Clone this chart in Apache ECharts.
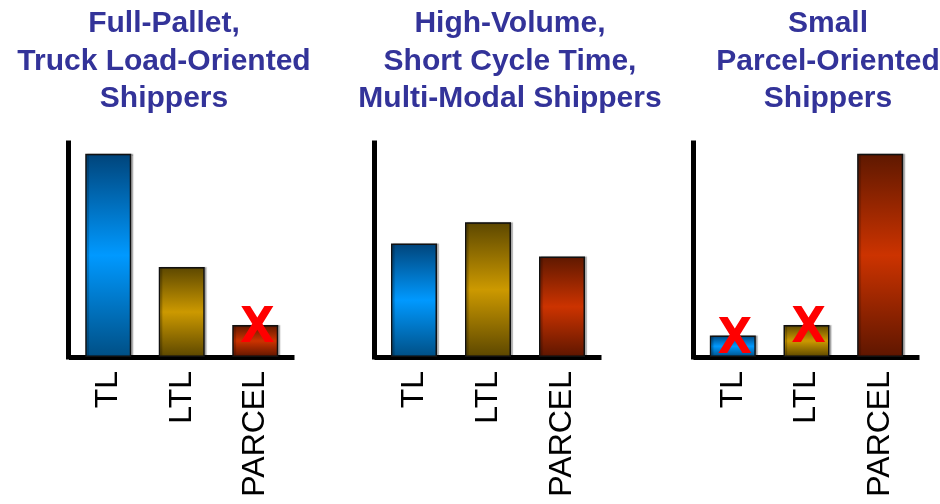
<!DOCTYPE html>
<html>
<head>
<meta charset="utf-8">
<style>
  html, body { margin: 0; padding: 0; background: #ffffff; }
  #chart { width: 940px; height: 504px; }
</style>
<script src="https://cdn.jsdelivr.net/npm/echarts@6/dist/echarts.min.js"></script>
</head>
<body>
<div id="chart"></div>
<script>
// Shipment modes shown on every panel
const categories = ['TL', 'LTL', 'PARCEL'];

// Panel headings (one per shipper profile)
const panelTitles = [
  'Full-Pallet,\nTruck Load-Oriented\nShippers',
  'High-Volume,\nShort Cycle Time,\nMulti-Modal Shippers',
  'Small\nParcel-Oriented\nShippers'
];

// Relative volume per mode, on a 0-100 scale
const fullPalletValues = [95, 42, 15];
const highVolumeValues = [53, 63, 47];
const smallParcelValues = [10, 15, 95];

// Modes that are struck out with a red X
const fullPalletCrossed = [false, false, true];
const highVolumeCrossed = [false, false, false];
const smallParcelCrossed = [true, true, false];

const panelValues = [fullPalletValues, highVolumeValues, smallParcelValues];
const panelCrossed = [fullPalletCrossed, highVolumeCrossed, smallParcelCrossed];

// Vertical dark-bright-dark fills for TL, LTL, PARCEL
const modeFills = [
  ['#00447a', '#0099ff', '#004f85'],
  ['#5c4700', '#cc9900', '#5c4700'],
  ['#5e1800', '#cc3300', '#5e1600']
];

const panelLayout = [
  { left: 71.5, width: 220.5, titleX: 159 },
  { left: 377, width: 222, titleX: 505 },
  { left: 696, width: 221, titleX: 823 }
];

const chart = echarts.init(document.getElementById('chart'), null, { renderer: 'canvas' });

function fillFor(i) {
  const c = modeFills[i];
  return new echarts.graphic.LinearGradient(0, 0, 0, 1, [
    { offset: 0, color: c[0] },
    { offset: 0.5, color: c[1] },
    { offset: 1, color: c[2] }
  ]);
}

const axisStroke = { color: '#000000', width: 5, cap: 'square' };

const option = {
  backgroundColor: '#ffffff',
  animation: false,
  title: panelLayout.map((p, k) => ({
    text: panelTitles[k],
    left: p.titleX,
    top: 0,
    textAlign: 'center',
    textStyle: {
      fontFamily: '"Liberation Sans", Arial, sans-serif',
      fontWeight: 'bold',
      fontSize: 30,
      lineHeight: 37.5,
      color: '#333399'
    }
  })),
  grid: panelLayout.map(p => ({ left: p.left, width: p.width, top: 143, bottom: 147 })),
  xAxis: panelLayout.map((p, k) => ({
    type: 'category',
    gridIndex: k,
    data: categories,
    axisLine: { show: true, lineStyle: axisStroke },
    axisTick: { show: false },
    axisLabel: {
      rotate: 90,
      margin: 14,
      fontFamily: '"Liberation Sans", Arial, sans-serif',
      fontSize: 32,
      color: '#000000',
      interval: 0
    },
    splitLine: { show: false }
  })),
  yAxis: panelLayout.map((p, k) => ({
    type: 'value',
    gridIndex: k,
    min: 0,
    max: 100,
    offset: 3,
    axisLine: { show: true, lineStyle: axisStroke },
    axisTick: { show: false },
    axisLabel: { show: false },
    splitLine: { show: false }
  })),
  series: panelValues.map((vals, k) => ({
    type: 'bar',
    xAxisIndex: k,
    yAxisIndex: k,
    barWidth: 46,
    data: vals.map((v, i) => ({
      value: v,
      itemStyle: {
        color: fillFor(i),
        borderColor: '#111111',
        borderWidth: 1.5,
        shadowColor: 'rgba(0,0,0,0.25)',
        shadowOffsetX: 2,
        shadowOffsetY: 0,
        shadowBlur: 1
      }
    })),
    label: {
      show: true,
      position: ['50%', 0],
      align: 'center',
      verticalAlign: 'middle',
      offset: [2, 4],
      fontFamily: '"Liberation Sans Narrow", "DejaVu Sans Condensed", Arial, sans-serif',
      fontWeight: 'bold',
      fontSize: 50,
      color: '#ff0000',
      formatter: p => (panelCrossed[k][p.dataIndex] ? 'X' : '')
    }
  }))
};

chart.setOption(option);
</script>
</body>
</html>
